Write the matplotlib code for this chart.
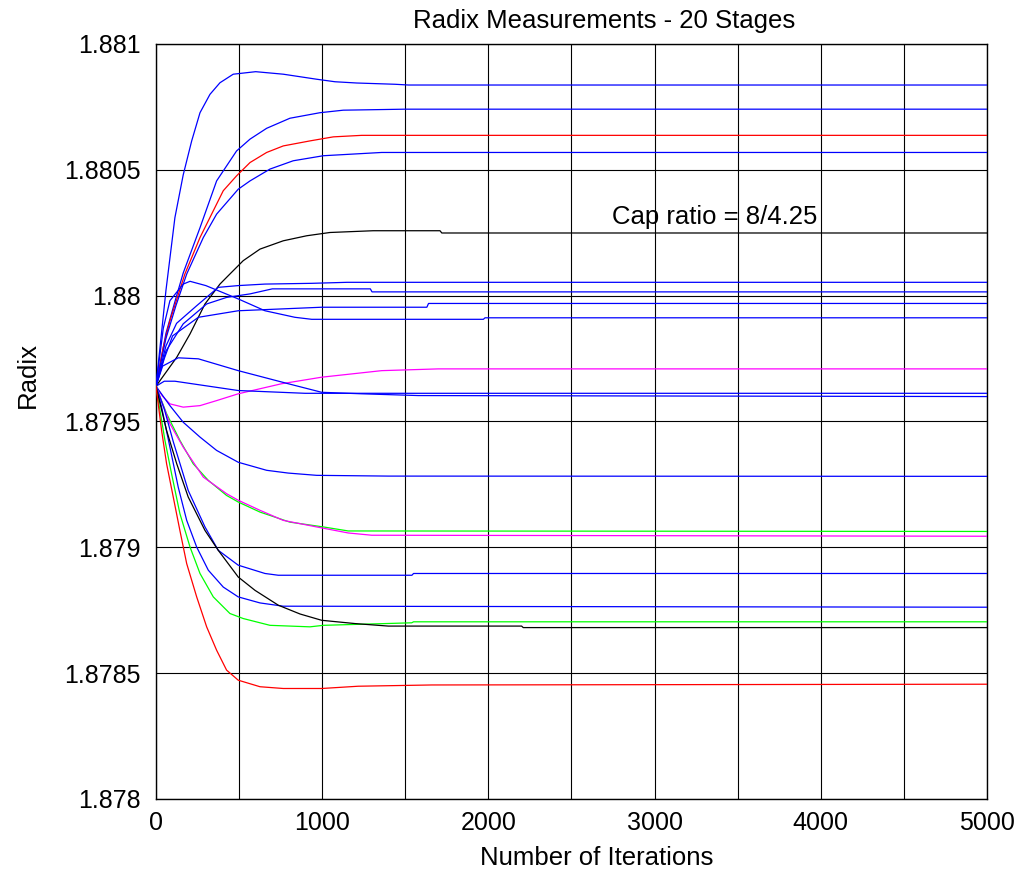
import matplotlib
matplotlib.use("Agg")
import matplotlib.pyplot as plt

plt.rcParams['font.family'] = ['Liberation Sans', 'DejaVu Sans']

# tick labels / text
y_ticks = [1.878, 1.8785, 1.879, 1.8795, 1.88, 1.8805, 1.881]
y_tick_labels = ['1.878', '1.8785', '1.879', '1.8795', '1.88', '1.8805', '1.881']
x_ticks = [0, 1000, 2000, 3000, 4000, 5000]
x_minor = [500, 1500, 2500, 3500, 4500]

# curves (iterations, radix)
blue1_x = [0, 60, 114, 164, 215, 265, 325, 385, 465, 600, 766, 967, 1077, 1208, 1438, 1520, 5000]
blue1_y = [1.87964, 1.88002, 1.88031, 1.88048, 1.880615, 1.880727, 1.8808, 1.880846, 1.88088, 1.88089,
           1.88088, 1.88086, 1.88085, 1.880845, 1.88084, 1.880837, 1.880837]

blue2_x = [0, 60, 120, 164, 265, 365, 485, 566, 666, 806, 987, 1127, 1498, 5000]
blue2_y = [1.87964, 1.87985, 1.87999, 1.88009, 1.88027, 1.880456, 1.880575, 1.880622, 1.880665,
           1.880705, 1.880727, 1.880737, 1.880741, 1.880741]

red1_x = [0, 44, 84, 174, 265, 335, 405, 485, 566, 666, 766, 927, 1067, 1238, 5000]
red1_y = [1.87964, 1.879795, 1.8799, 1.880086, 1.880231, 1.880324, 1.880417, 1.880476, 1.880529,
          1.880569, 1.880595, 1.880615, 1.880631, 1.880637, 1.880637]

blue3_x = [0, 60, 120, 185, 285, 365, 495, 566, 686, 826, 1007, 1358, 5000]
blue3_y = [1.87964, 1.87983, 1.87996, 1.880086, 1.880231, 1.880324, 1.880423, 1.880456, 1.880503,
           1.880536, 1.880556, 1.880569, 1.880569]

black1_x = [0, 125, 205, 295, 385, 445, 525, 626, 766, 907, 1047, 1307, 1709, 1720, 5000]
black1_y = [1.87964, 1.879755, 1.879848, 1.879967, 1.880046, 1.880086, 1.880139, 1.880185, 1.880218,
            1.880238, 1.880251, 1.880258, 1.880258, 1.880249, 1.880249]

blue4_x = [0, 60, 124, 245, 375, 495, 656, 937, 1150, 5000]
blue4_y = [1.87964, 1.8798, 1.87989, 1.87996, 1.880033, 1.88004, 1.880046, 1.880049, 1.880053, 1.880053]

blue5_x = [0, 60, 164, 305, 425, 566, 700, 1290, 1300, 5000]
blue5_y = [1.87964, 1.87978, 1.879888, 1.879967, 1.879993, 1.880007, 1.880027, 1.880027, 1.880015, 1.880015]

blue6_x = [0, 50, 100, 255, 495, 997, 1630, 1640, 5000]
blue6_y = [1.87964, 1.87975, 1.87984, 1.879914, 1.87994, 1.879954, 1.879954, 1.879969, 1.879969]

blue7_x = [0, 44, 84, 164, 205, 300, 495, 656, 836, 937, 1970, 1980, 5000]
blue7_y = [1.87964, 1.87987, 1.87998, 1.880046, 1.880057, 1.88004, 1.879987, 1.87994, 1.879914,
           1.879906, 1.879906, 1.879912, 1.879912]

magenta1_x = [0, 40, 84, 164, 265, 365, 495, 756, 997, 1358, 1699, 5000]
magenta1_y = [1.87964, 1.8796, 1.87957, 1.879557, 1.879563, 1.879583, 1.87961, 1.87965, 1.879676,
              1.879702, 1.879709, 1.879709]

blue8_x = [0, 50, 114, 495, 897, 5000]
blue8_y = [1.87964, 1.87966, 1.87966, 1.879623, 1.879612, 1.879612]

blue9_x = [0, 40, 134, 255, 495, 796, 997, 1238, 1578, 5000]
blue9_y = [1.87964, 1.87972, 1.879753, 1.879749, 1.879702, 1.87965, 1.879616, 1.87961, 1.879603, 1.879599]

blue10_x = [0, 84, 164, 265, 365, 495, 666, 796, 967, 1398, 5000]
blue10_y = [1.87964, 1.879563, 1.879497, 1.879438, 1.879385, 1.879338, 1.879306, 1.879295, 1.879286,
            1.879283, 1.879282]

green1_x = [0, 64, 144, 224, 315, 425, 495, 626, 806, 1007, 1157, 5000]
green1_y = [1.87964, 1.879531, 1.879425, 1.879332, 1.879266, 1.879206, 1.87918, 1.87914, 1.8791,
            1.879081, 1.879065, 1.879063]

magenta2_x = [0, 84, 164, 285, 425, 495, 626, 766, 967, 1157, 1298, 5000]
magenta2_y = [1.87964, 1.879491, 1.879398, 1.879279, 1.879213, 1.879187, 1.879147, 1.879107, 1.879081,
              1.879057, 1.879048, 1.879044]

blue11_x = [0, 50, 104, 194, 295, 375, 495, 656, 736, 1540, 1550, 5000]
blue11_y = [1.87964, 1.87955, 1.87942, 1.879226, 1.879081, 1.878988, 1.878929, 1.878896, 1.878889,
            1.878889, 1.878896, 1.878896]

blue12_x = [0, 34, 84, 134, 185, 245, 315, 405, 495, 626, 766, 5000]
blue12_y = [1.87964, 1.879557, 1.879398, 1.879239, 1.879107, 1.879001, 1.878909, 1.878842, 1.878803,
            1.878779, 1.878766, 1.878762]

green2_x = [0, 54, 94, 144, 205, 265, 345, 445, 525, 686, 927, 1007, 1539, 1550, 5000]
green2_y = [1.87964, 1.879425, 1.879292, 1.879134, 1.879001, 1.878896, 1.878803, 1.878737, 1.878717,
            1.87869, 1.878684, 1.87869, 1.8787, 1.878704, 1.878704]

black2_x = [0, 64, 125, 194, 295, 375, 495, 596, 736, 867, 997, 1197, 1398, 2200, 2210, 5000]
black2_y = [1.87964, 1.879464, 1.879332, 1.8792, 1.879067, 1.878988, 1.878882, 1.878829, 1.87877,
            1.878735, 1.87871, 1.878697, 1.878687, 1.878687, 1.878681, 1.878681]

red2_x = [0, 34, 64, 104, 144, 185, 245, 305, 365, 425, 495, 626, 766, 997, 1217, 1659, 5000]
red2_y = [1.87964, 1.879464, 1.879332, 1.8792, 1.879067, 1.878935, 1.878803, 1.878684, 1.878591,
          1.878512, 1.878472, 1.878446, 1.878439, 1.878439, 1.878448, 1.878453, 1.878456]

curves = [
    (blue1_x, blue1_y, '#0000ff'), (blue2_x, blue2_y, '#0000ff'), (red1_x, red1_y, '#ff0000'),
    (blue3_x, blue3_y, '#0000ff'), (black1_x, black1_y, '#000000'), (blue4_x, blue4_y, '#0000ff'),
    (blue5_x, blue5_y, '#0000ff'), (blue6_x, blue6_y, '#0000ff'), (blue7_x, blue7_y, '#0000ff'),
    (magenta1_x, magenta1_y, '#ff00ff'), (blue8_x, blue8_y, '#0000ff'), (blue9_x, blue9_y, '#0000ff'),
    (blue10_x, blue10_y, '#0000ff'), (green1_x, green1_y, '#00ff00'), (magenta2_x, magenta2_y, '#ff00ff'),
    (blue11_x, blue11_y, '#0000ff'), (blue12_x, blue12_y, '#0000ff'), (green2_x, green2_y, '#00ff00'),
    (black2_x, black2_y, '#000000'), (red2_x, red2_y, '#ff0000'),
]

fig = plt.figure(figsize=(10.2, 8.73), dpi=100)
ax = fig.add_axes([0.1529, 0.0848, 0.8147, 0.8648])

for xs, ys, c in curves:
    ax.plot(xs, ys, color=c, linewidth=0.9, zorder=3)

ax.set_xlim(0, 5000)
ax.set_ylim(1.878, 1.881)
ax.set_xticks(x_ticks)
ax.set_xticks(x_minor, minor=True)
ax.set_yticks(y_ticks)
ax.set_yticklabels(y_tick_labels)
ax.grid(which='both', color='black', linewidth=0.8, zorder=1)
ax.tick_params(which='both', direction='in', length=0, labelsize=18)
ax.tick_params(axis='y', pad=11)
ax.tick_params(axis='x', pad=9)
for s in ax.spines.values():
    s.set_linewidth(1.0)

ax.text(2744, 1.880313, 'Cap ratio = 8/4.25', fontsize=18.5, ha='left', va='center', zorder=4)

fig.text(0.592, 0.976, 'Radix Measurements - 20 Stages', fontsize=18.5, ha='center', va='center')
fig.text(0.585, 0.017, 'Number of Iterations', fontsize=18.5, ha='center', va='center')
fig.text(0.027, 0.570, 'Radix', fontsize=18.5, rotation=90, ha='center', va='center')

fig.savefig('out.png', dpi=100)
